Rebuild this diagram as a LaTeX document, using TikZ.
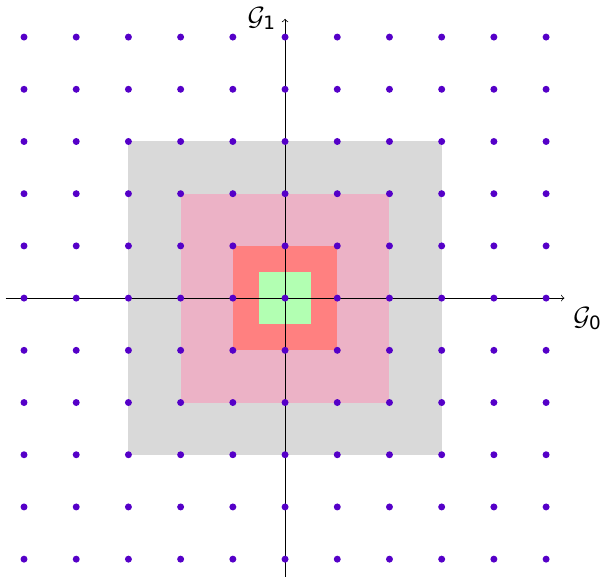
\documentclass[tikz,border=0pt]{standalone}
\usepackage{amsmath}
\usepackage{fontspec}
\setmainfont{DejaVu Sans}
\usepackage{xcolor}
\usepackage{tikz}
\usetikzlibrary{positioning, arrows.meta}
\definecolor{latticeviolet}{RGB}{85,0,200}

\begin{document}
\begin{tikzpicture}[x=1cm, y=1cm]
  \useasboundingbox (-5.46,-5.34) rectangle (6.09,5.71);
  % nested regions
  \fill[gray!30] (-3,-3) rectangle (3,3);
  \fill[purple!30] (-2,-2) rectangle (2,2);
  \fill[red!50] (-1,-1) rectangle (1,1);
  \fill[green!30] (-0.5,-0.5) rectangle (0.5,0.5);
  % axes
  \coordinate (xl) at (-5.35,0);
  \coordinate (xr) at (5.35,0);
  \coordinate (yb) at (0,-5.35);
  \coordinate (yt) at (0,5.35);
  \draw[-to] (xl) -- (xr);
  \draw[-to] (yb) -- (yt);
  \node (g0) [below right=0.05cm and 0.05cm of xr] {\Large $\mathcal{G}_{\text{0}}$};
  \node (g1) [left=0.05cm of yt] {\Large $\mathcal{G}_{\text{1}}$};
  % lattice points
  \foreach \i in {-5,...,5}
    \foreach \j in {-5,...,5}
      \fill[latticeviolet] (\i,\j) circle (1.9pt);
\end{tikzpicture}
\end{document}
